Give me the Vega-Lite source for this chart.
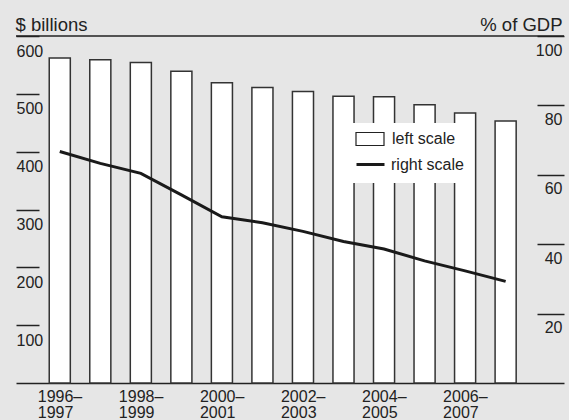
{
  "$schema": "https://vega.github.io/schema/vega-lite/v6.json",
  "width": 548,
  "height": 347,
  "autosize": "none",
  "padding": {"left": 16, "top": 36, "right": 5, "bottom": 37},
  "background": "#e6e6e6",
  "config": {"view": {"stroke": null}, "font": "Liberation Sans"},
  "data": {"values": [
    {"period": "1996–1997", "spend": 562, "gdp": 66.7},
    {"period": "1997–1998", "spend": 559, "gdp": 63.3},
    {"period": "1998–1999", "spend": 554, "gdp": 60.4},
    {"period": "1999–2000", "spend": 539, "gdp": 54.2},
    {"period": "2000–2001", "spend": 519, "gdp": 47.9},
    {"period": "2001–2002", "spend": 511, "gdp": 46.2},
    {"period": "2002–2003", "spend": 504, "gdp": 43.7},
    {"period": "2003–2004", "spend": 496, "gdp": 40.8},
    {"period": "2004–2005", "spend": 495, "gdp": 38.6},
    {"period": "2005–2006", "spend": 481, "gdp": 35.2},
    {"period": "2006–2007", "spend": 467, "gdp": 32.3},
    {"period": "2007–2008", "spend": 453, "gdp": 29.3}
  ]},
  "layer": [
    {
      "layer": [
        {
          "mark": {"type": "bar", "stroke": "#333", "strokeWidth": 1.5},
          "encoding": {
            "x": {
              "field": "period", "type": "ordinal", "sort": null,
              "scale": {"paddingInner": 0.48, "paddingOuter": 1.0, "align": 0.41},
              "axis": {
                "title": null, "ticks": false, "domainColor": "#222", "domainWidth": 1.5,
                "labelAngle": 0, "labelAlign": "left", "labelBaseline": "top", "labelOffset": -22,
                "labelPadding": 5, "labelFontSize": 16, "labelLineHeight": 16, "labelColor": "#222",
                "labelOverlap": false, "labelBound": false, "labelFlush": false,
                "labelExpr": "toNumber(slice(datum.value,0,4)) % 2 == 0 ? [slice(datum.value,0,5), slice(datum.value,5)] : ''"
              }
            },
            "y": {
              "field": "spend", "type": "quantitative",
              "scale": {"domain": [0, 600], "nice": false},
              "axis": {
                "values": [100, 200, 300, 400, 500, 600], "offset": -23, "tickSize": 23,
                "tickColor": "#222", "tickWidth": 1.5, "domain": false, "grid": false,
                "labelAlign": "left", "labelBaseline": "top", "labelPadding": 0, "labelOffset": 7,
                "labelFontSize": 16, "labelColor": "#222", "labelBound": false, "labelFlush": false, "labelOverlap": false,
                "title": "$ billions", "titleAngle": 0, "titleAlign": "left", "titleBaseline": "alphabetic",
                "titleX": -24, "titleY": -6, "titleFontSize": 18.5, "titleFontWeight": "normal", "titleColor": "#222"
              }
            },
            "fill": {
              "datum": "left scale",
              "scale": {"domain": ["left scale"], "range": ["white"]},
              "legend": {
                "orient": "none", "legendX": 329, "legendY": 87, "fillColor": "white",
                "padding": 8, "title": null, "symbolSize": 196,
                "symbolType": "M-2,-0.93H2V0.93H-2Z", "symbolOffset": 9,
                "symbolStrokeColor": "#222", "symbolStrokeWidth": 1.2,
                "labelFontSize": 16, "labelColor": "#222", "labelOffset": 14,
                "labelExpr": "datum.label + '\u00a0\u00a0\u00a0'"
              }
            }
          }
        },
        {
          "data": {"values": [{}]},
          "mark": {"type": "rule", "color": "#222", "strokeWidth": 1.5},
          "encoding": {"y": {"datum": 600}}
        }
      ]
    },
    {
      "mark": {"type": "line", "color": "#1a1a1a", "strokeWidth": 3},
      "encoding": {
        "x": {"field": "period", "type": "ordinal", "sort": null},
        "y": {
          "field": "gdp", "type": "quantitative",
          "scale": {"domain": [0, 100], "nice": false},
          "axis": {
            "orient": "right", "values": [20, 40, 60, 80, 100], "offset": -27, "tickSize": 27,
            "tickColor": "#222", "tickWidth": 1.5, "domain": false, "grid": false,
            "labelAlign": "right", "labelBaseline": "top", "labelPadding": -2, "labelOffset": 6,
            "labelFontSize": 16, "labelColor": "#222", "labelBound": false, "labelFlush": false, "labelOverlap": false,
            "title": "% of GDP", "titleAngle": 0, "titleAlign": "right", "titleBaseline": "alphabetic",
            "titleX": 25, "titleY": -6, "titleFontSize": 18.5, "titleFontWeight": "normal", "titleColor": "#222"
          }
        },
        "stroke": {
          "datum": "right scale",
          "scale": {"domain": ["right scale"], "range": ["#1a1a1a"]},
          "legend": {
            "orient": "none", "legendX": 329, "legendY": 110, "fillColor": "white",
            "padding": 10, "title": null, "symbolSize": 196,
            "symbolType": "M-2,0H2", "symbolOffset": 7,
            "symbolStrokeColor": "#1a1a1a", "symbolStrokeWidth": 3,
            "labelFontSize": 16, "labelColor": "#222", "labelOffset": 12
          }
        }
      }
    }
  ],
  "resolve": {"scale": {"y": "independent"}}
}
